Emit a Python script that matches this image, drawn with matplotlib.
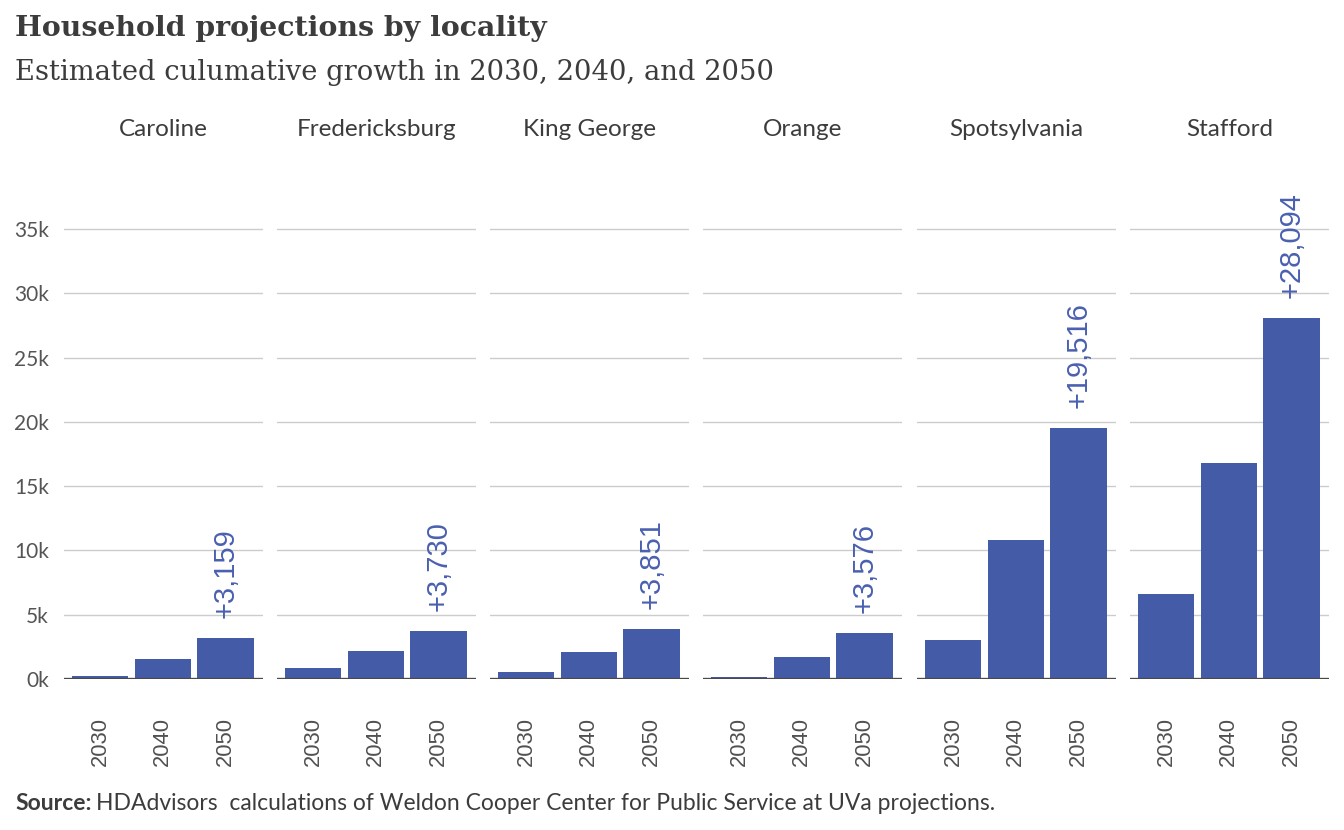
import matplotlib
matplotlib.use("Agg")
import matplotlib.pyplot as plt

# ---- data ----
localities = ["Caroline", "Fredericksburg", "King George", "Orange", "Spotsylvania", "Stafford"]
years = ["2030", "2040", "2050"]
growth = {
    "Caroline":       [230, 1550, 3159],
    "Fredericksburg": [860, 2180, 3730],
    "King George":    [550, 2100, 3851],
    "Orange":         [150, 1700, 3576],
    "Spotsylvania":   [3030, 10800, 19516],
    "Stafford":       [6600, 16800, 28094],
}
yticks = [0, 5000, 10000, 15000, 20000, 25000, 30000, 35000]
ytick_labels = ["0k", "5k", "10k", "15k", "20k", "25k", "30k", "35k"]

BAR = "#445ca8"
LABEL = "#4a60b0"
TXT = "#3c3c3c"

W, H = 1344, 830
fig = plt.figure(figsize=(W / 100, H / 100), dpi=100)

# layout in pixels
panel_left = [64, 277, 490, 703, 917, 1130]
panel_w = 199
base_y = 679        # pixel row of 0
top35_y = 229       # pixel row of 35k
ax_top_y = 160
px_per_unit = (base_y - top35_y) / 35000
ymax = (base_y - ax_top_y) / px_per_unit

for i, (loc, x0) in enumerate(zip(localities, panel_left)):
    ax = fig.add_axes([x0 / W, (H - base_y) / H, panel_w / W, (base_y - ax_top_y) / H])
    vals = growth[loc]
    xs = list(range(len(years)))
    ax.bar(xs, vals, width=0.9, color=BAR, zorder=3)
    ax.set_xlim(-0.58, 2.6)
    ax.set_ylim(0, ymax)
    for y in yticks[1:]:
        ax.axhline(y, color="#cccccc", lw=1, zorder=1)
    ax.axhline(0, color="#4a4a4a", lw=2.4, zorder=4)
    for s in ax.spines.values():
        s.set_visible(False)
    ax.set_xticks(xs)
    ax.set_xticklabels(years, rotation=90, fontsize=15.8, color="#505050",
                       family="Liberation Sans")
    ax.tick_params(axis="x", length=0, pad=27)
    ax.set_yticks(yticks)
    if i == 0:
        ax.set_yticklabels(ytick_labels, fontsize=15, color="#555555", family="Lato")
        ax.tick_params(axis="y", length=0, pad=11)
    else:
        ax.tick_params(axis="y", length=0, labelleft=False)
    ax.annotate("+{:,}".format(vals[-1]), (xs[-1], vals[-1]), xytext=(0, 14.5),
                textcoords="offset points", rotation=90, ha="center", va="bottom",
                fontsize=21, color=LABEL, family="Liberation Sans", zorder=5)
    fig.text((x0 + panel_w / 2) / W, 1 - 130 / H, loc, ha="center", va="center",
             fontsize=17.5, color=TXT, family="Lato")

fig.text(15 / W, 1 - 29 / H, "Household projections by locality", ha="left", va="center",
         fontsize=20.4, fontweight="bold", color=TXT, family="DejaVu Serif")
fig.text(15 / W, 1 - 73 / H, "Estimated culumative growth in 2030, 2040, and 2050",
         ha="left", va="center", fontsize=19.7, color=TXT, family="DejaVu Serif")

t = fig.text(15 / W, 1 - 803 / H, "Source:", ha="left", va="center", fontsize=16.5,
             fontweight="bold", color=TXT, family="Lato")
fig.canvas.draw()
bb = t.get_window_extent()
fig.text((bb.x1 + 5) / W, 1 - 803 / H,
         "HDAdvisors  calculations of Weldon Cooper Center for Public Service at UVa projections.",
         ha="left", va="center", fontsize=16.5, color=TXT, family="Lato")

fig.savefig("out.png", dpi=100)
